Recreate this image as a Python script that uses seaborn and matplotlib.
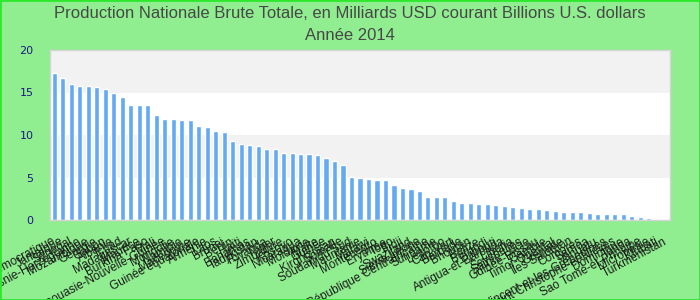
import matplotlib
matplotlib.use("Agg")
import matplotlib.pyplot as plt
import seaborn as sns
import pandas as pd
from matplotlib import font_manager
from matplotlib.patches import Rectangle

countries = [
    "Corée, République populaire démocratique", "Jamaïque", "Sénégal", "Bosnie-Herzégovine",
    "Mozambique", "Géorgie", "Gabon", "Albanie", "Tchad", "Madagascar", "Maurice",
    "Burkina Faso", "Mali", "Papouasie-Nouvelle-Guinée", "Mongolie", "Namibie", "Macédoine",
    "Guinée équatoriale", "Arménie", "Laos", "Brunei", "Bénin", "Haïti", "Bahamas",
    "Tadjikistan", "Rwanda", "Niger", "Zimbabwe", "Kosovo", "Nicaragua", "Moldavie", "Malte",
    "Guinée", "Kirghizistan", "Somalie", "Soudan du Sud", "Mauritanie", "Malawi",
    "Monténégro", "Érythrée", "Togo", "Fidji", "Swaziland", "Sierra Leone",
    "République Centrafricaine", "Suriname", "Lesotho", "Cap-Vert", "Barbade", "Bhoutan",
    "Belize", "Burundi", "Djibouti", "Antigua-et-Barbuda", "Libéria", "Seychelles",
    "Sainte-Lucie", "Guinée-Bissau", "Gambie", "Timor-Oriental", "Grenade", "Îles Salomon",
    "Comores", "Samoa", "Vanuatu", "Saint-Vincent-et-les-Grenadines",
    "Saint-Christophe-et-Niévès", "Dominique", "Tonga", "Sao Tomé-et-Principe",
    "Micronésie", "Kiribati", "Turkménistan",
]
values = [
    17.3, 16.7, 16.0, 15.8, 15.8, 15.6, 15.4, 14.9, 14.5, 13.5, 13.5, 13.5, 12.4, 11.9,
    11.9, 11.8, 11.8, 11.1, 11.0, 10.5, 10.4, 9.3, 8.9, 8.8, 8.7, 8.3, 8.3, 7.9, 7.9,
    7.8, 7.8, 7.7, 7.3, 7.0, 6.5, 5.1, 4.95, 4.8, 4.7, 4.7, 4.1, 3.8, 3.65, 3.4, 2.7,
    2.7, 2.7, 2.25, 2.0, 2.0, 1.9, 1.9, 1.8, 1.65, 1.5, 1.4, 1.3, 1.3, 1.2, 1.06, 0.95,
    0.95, 0.95, 0.82, 0.72, 0.72, 0.72, 0.72, 0.47, 0.35, 0.24, 0.12, 0.0,
]
yticks = [0, 5, 10, 15, 20]
title_line1 = "Production Nationale Brute Totale, en Milliards USD courant Billions U.S. dollars"
title_line2 = "Année 2014"

sns.set_theme(style="white")
names = {f.name for f in font_manager.fontManager.ttflist}
title_font = "Liberation Sans Narrow" if "Liberation Sans Narrow" in names else "Liberation Sans"
plt.rcParams["font.family"] = ["Liberation Sans", "DejaVu Sans"]

df = pd.DataFrame({"pays": countries, "valeur": values})

fig = plt.figure(figsize=(7, 3), dpi=100, facecolor="#90ee90")
ax = fig.add_axes([50 / 700, 1 - 220 / 300, 620 / 700, 170 / 300])
ax.set_facecolor("white")
ax.axhspan(15, 20, color="#f2f2f2", zorder=0, lw=0)
ax.axhspan(5, 10, color="#f2f2f2", zorder=0, lw=0)

sns.barplot(data=df, x="pays", y="valeur", color="#63aaf2", saturation=1, width=0.6,
            ax=ax, zorder=2)

ax.set_ylim(0, 20)
ax.set_xlim(-0.5, len(countries) - 0.5)
ax.set_yticks(yticks)
ax.set_yticklabels([str(v) for v in yticks], color="#1a1a80", fontsize=8,
                   family="DejaVu Sans")
ax.tick_params(axis="y", length=0, pad=12)
ax.tick_params(axis="x", length=0, pad=15)
ax.set_xticks(range(len(countries)))
ax.set_xticklabels(countries, rotation=28, ha="right", va="center",
                   rotation_mode="anchor", fontsize=8.5, color="#1a1a1a")
ax.set_xlabel("")
ax.set_ylabel("")
for s in ax.spines.values():
    s.set_color("#d4d4d4")
    s.set_linewidth(1)

fig.text(0.5, 1 - 13 / 300, title_line1, ha="center", va="center", fontsize=12,
         color="#474747", family=title_font)
fig.text(0.5, 1 - 35 / 300, title_line2, ha="center", va="center", fontsize=12,
         color="#474747", family=title_font)

fig.patches.append(Rectangle((0, 0), 1, 1, transform=fig.transFigure, fill=False,
                             edgecolor="#2ee82e", linewidth=2, zorder=10))

fig.savefig("out.png", dpi=100, facecolor=fig.get_facecolor())
